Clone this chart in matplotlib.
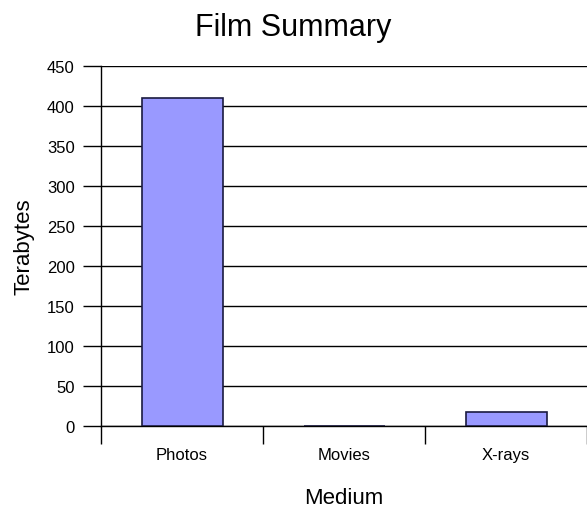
import matplotlib
matplotlib.use('Agg')
import matplotlib.pyplot as plt

# Donnees
media = ['Photos', 'Movies', 'X-rays']
terabytes = [410, 0, 17]
y_ticks = [0, 50, 100, 150, 200, 250, 300, 350, 400, 450]

plt.rcParams['font.family'] = ['Liberation Sans', 'DejaVu Sans']

fig = plt.figure(figsize=(5.87, 5.10), dpi=100)
ax = fig.add_axes([101 / 587, 1 - 427 / 510, 1 - 101 / 587, 360 / 510])

x = list(range(len(media)))
ax.bar(x, terabytes, width=0.5, color='#9999ff', edgecolor='#1a1a40', linewidth=1.2, zorder=3)

ax.set_xlim(-0.5, len(media) - 0.5)
ax.set_ylim(0, 450)

# Graduations y et lignes de grille
ax.set_yticks(y_ticks)
ax.tick_params(axis='y', direction='out', length=13, width=1, labelsize=12, pad=6)
for v in y_ticks:
    ax.axhline(v, color='black', linewidth=1, zorder=1)

# Graduations x aux limites des categories, etiquettes au centre
ax.set_xticks([i - 0.5 for i in range(len(media) + 1)])
ax.set_xticklabels([])
ax.tick_params(axis='x', which='major', direction='out', length=13, width=1)
ax.set_xticks(x, minor=True)
ax.set_xticklabels(media, minor=True, fontsize=12)
ax.tick_params(axis='x', which='minor', length=0, pad=15)

for side in ['top', 'right']:
    ax.spines[side].set_visible(False)
ax.spines['left'].set_linewidth(1)
ax.spines['bottom'].set_linewidth(1)

ax.set_xlabel('Medium', fontsize=16, labelpad=18)
ax.set_ylabel('Terabytes', fontsize=16, labelpad=9)
fig.text(0.5, 1 - 28 / 510, 'Film Summary', ha='center', va='center', fontsize=22)

plt.savefig('out.png', dpi=100)
